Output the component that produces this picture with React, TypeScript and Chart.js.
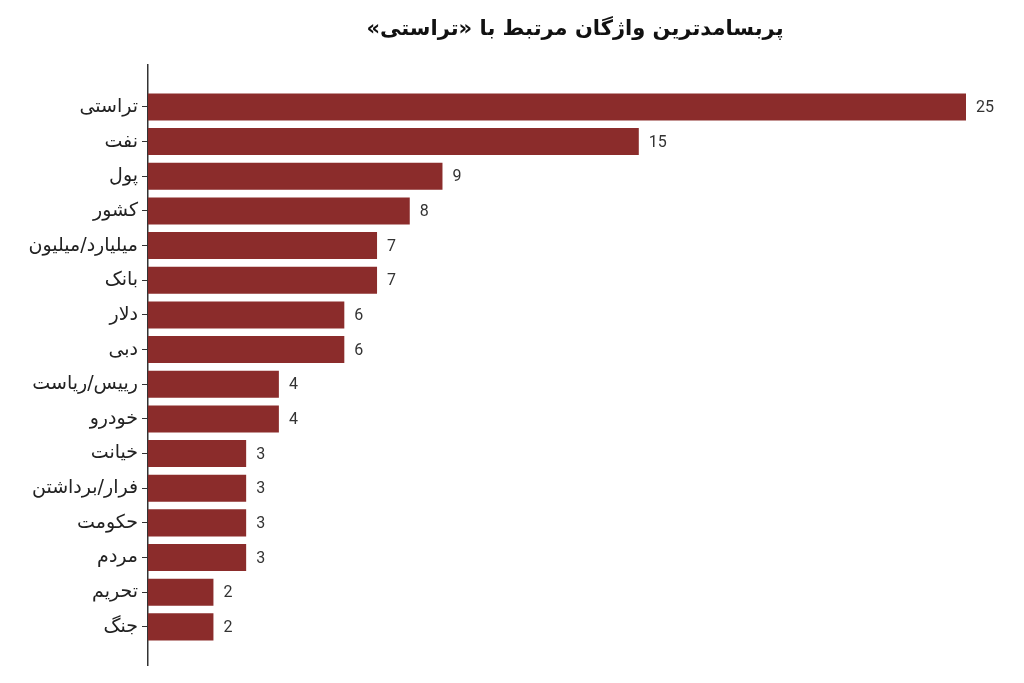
import { useEffect, useRef } from "react";
import { Chart, registerables } from "chart.js";

Chart.register(...registerables);

const title = "پربسامدترین واژگان مرتبط با «تراستی»";
const words = [
  "تراستی",
  "نفت",
  "پول",
  "کشور",
  "میلیارد/میلیون",
  "بانک",
  "دلار",
  "دبی",
  "رییس/ریاست",
  "خودرو",
  "خیانت",
  "فرار/برداشتن",
  "حکومت",
  "مردم",
  "تحریم",
  "جنگ",
];
const counts = [25, 15, 9, 8, 7, 7, 6, 6, 4, 4, 3, 3, 3, 3, 2, 2];

const barColor = "#8b2c2b";
const persianFont = "'DejaVu Sans', sans-serif";

const valueLabels = {
  id: "valueLabels",
  afterDatasetsDraw(chart: Chart) {
    const { ctx } = chart;
    const meta = chart.getDatasetMeta(0);
    ctx.save();
    ctx.font = "16px Roboto";
    ctx.fillStyle = "#333";
    ctx.textAlign = "left";
    ctx.textBaseline = "middle";
    meta.data.forEach((bar: any, i: number) => {
      ctx.fillText(String(counts[i]), bar.x + 10, bar.y + 1);
    });
    ctx.restore();
  },
};

// RTL title, canvas default direction would reorder the guillemets
const rtlTitle = {
  id: "rtlTitle",
  afterDraw(chart: Chart) {
    const { ctx } = chart;
    ctx.save();
    ctx.direction = "rtl";
    ctx.font = `bold 21px ${persianFont}`;
    ctx.fillStyle = "#111";
    ctx.textAlign = "center";
    ctx.textBaseline = "middle";
    ctx.fillText(title, chart.width * 0.5615, 30);
    ctx.restore();
  },
};

const App = () => {
  const canvasRef = useRef<HTMLCanvasElement | null>(null);

  useEffect(() => {
    document.body.style.margin = "0";
    if (!canvasRef.current) return;
    const chart = new Chart(canvasRef.current, {
      type: "bar",
      data: {
        datasets: [
          {
            data: counts.map((c, i) => ({ x: c, y: i })),
            backgroundColor: barColor,
            barPercentage: 0.78,
            categoryPercentage: 1,
          },
        ],
      },
      options: {
        indexAxis: "y",
        animation: false,
        responsive: false,
        layout: { padding: { left: 0, right: 58, bottom: 18, top: 65 } },
        scales: {
          x: { display: false, min: 0, max: 25 },
          y: {
            type: "linear",
            reverse: true,
            offset: false,
            min: -1.21,
            max: 16.1,
            afterBuildTicks: (scale: any) => {
              scale.ticks = words.map((_, i) => ({ value: i }));
            },
            afterFit: (scale: any) => {
              scale.width = 148;
            },
            ticks: {
              autoSkip: false,
              padding: 4,
              color: "#222",
              font: { family: persianFont, size: 19 },
              callback: (value: any) => words[value] ?? "",
            },
            grid: {
              offset: false,
              drawOnChartArea: false,
              tickLength: 6,
              color: "#333",
            },
            border: { display: true, color: "#333", width: 1.5 },
          },
        },
        plugins: {
          legend: { display: false },
          tooltip: { enabled: false },
        },
      },
      plugins: [valueLabels, rtlTitle],
    });
    return () => chart.destroy();
  }, []);

  return (
    <div style={{ width: 1024, height: 683, background: "#fff" }}>
      <canvas ref={canvasRef} width={1024} height={683} />
    </div>
  );
};

export default App;
